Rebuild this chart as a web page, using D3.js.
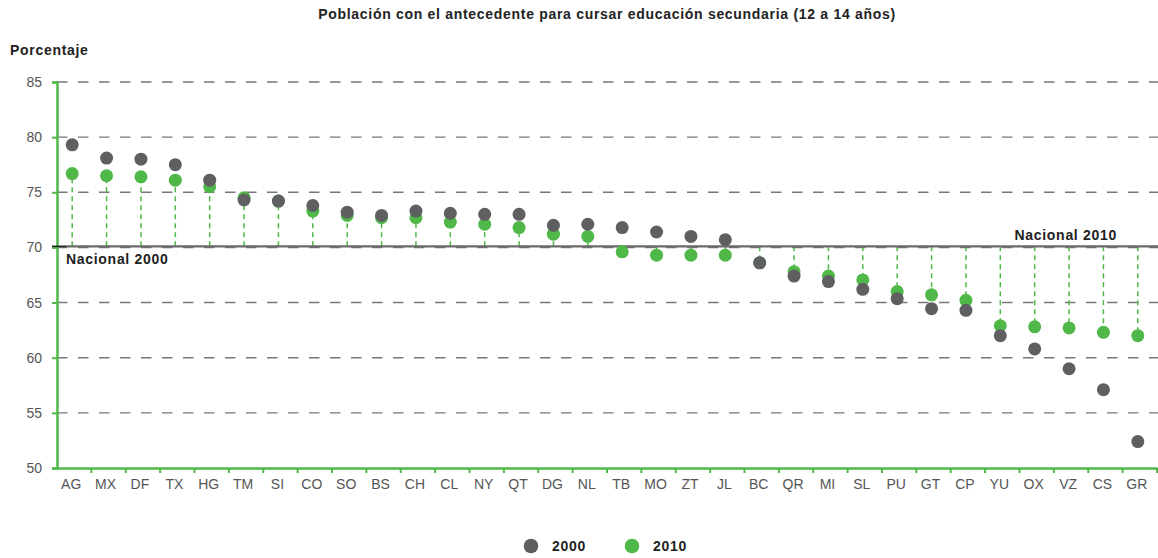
<!DOCTYPE html>
<html><head><meta charset="utf-8">
<script src="https://cdn.jsdelivr.net/npm/d3@7"></script>
<style>body{margin:0;background:#fff}svg{display:block;font-family:"Liberation Sans",Arial,sans-serif}</style>
</head><body><svg id="c" width="1158" height="558"></svg>
<script>
const categories = ["AG","MX","DF","TX","HG","TM","SI","CO","SO","BS","CH","CL","NY","QT","DG","NL","TB","MO","ZT","JL","BC","QR","MI","SL","PU","GT","CP","YU","OX","VZ","CS","GR"];
const values2000 = [79.3,78.1,78.0,77.5,76.1,74.3,74.2,73.8,73.2,72.9,73.3,73.1,73.0,73.0,72.0,72.1,71.8,71.4,71.0,70.7,68.6,67.4,66.9,66.2,65.35,64.45,64.3,62.0,60.8,59.0,57.1,52.4];
const values2010 = [76.7,76.5,76.4,76.1,75.5,74.5,74.2,73.3,72.9,72.7,72.7,72.3,72.1,71.8,71.2,71.0,69.6,69.3,69.3,69.3,68.6,67.8,67.4,67.05,66.0,65.7,65.2,62.9,62.8,62.7,62.3,62.0];
const yTicks = [50,55,60,65,70,75,80,85];
const nacional = 70.1;
const seriesNames = ["2000","2010"];
const title = "Población con el antecedente para cursar educación secundaria (12 a 14 años)";

const GREEN = "#4fb848", GRAY = "#5f5f62";
const BOLD = {size: 14, ls: 0.7};
const svg = d3.select("#c");
const x = d3.scaleBand().domain(categories).range([57, 1157]);
const y = d3.scaleLinear().domain([50, 85]).range([468, 82]);

function boldText(g, px, py, t, anchor) {
  return g.append("text").attr("x", px).attr("y", py).attr("text-anchor", anchor || "start")
    .attr("font-size", BOLD.size).attr("letter-spacing", BOLD.ls).attr("font-weight","bold").attr("fill","#222").text(t);
}

boldText(svg, 607, 19, title, "middle");
boldText(svg, 10, 55, "Porcentaje");

// grid
svg.append("g").selectAll("line").data(yTicks.filter(d => d > 50)).join("line")
  .attr("x1", 57).attr("x2", 1158).attr("y1", d => y(d)).attr("y2", d => y(d))
  .attr("stroke", "#777").attr("stroke-width", 1.4).attr("stroke-dasharray", "10.5,10.5");

// y axis
const ya = svg.append("g").attr("transform","translate(57,0)")
  .call(d3.axisLeft(y).tickValues(yTicks).tickSize(5).tickPadding(10));
ya.select(".domain").attr("stroke", GREEN).attr("stroke-width", 2.5);
ya.selectAll(".tick line").attr("stroke", GREEN).attr("stroke-width", 2);
ya.selectAll(".tick text").attr("font-size", 14).attr("fill","#555").attr("font-family","Liberation Sans, Arial");

// x axis
const xa = svg.append("g").attr("transform","translate(0,468)")
  .call(d3.axisBottom(x).tickSize(0).tickPadding(11));
xa.select(".domain").attr("stroke", GREEN).attr("stroke-width", 2.5);
xa.selectAll(".tick text").attr("font-size", 14).attr("fill","#555").attr("font-family","Liberation Sans, Arial").attr("dx", -3);
svg.append("g").selectAll("line").data(categories).join("line")
  .attr("x1", d => x(d) + x.bandwidth()).attr("x2", d => x(d) + x.bandwidth())
  .attr("y1", 468).attr("y2", 473).attr("stroke", GREEN).attr("stroke-width", 2);

const cx = d => x(d) + x.bandwidth()/2 - 2;

// stems
svg.append("g").selectAll("line").data(categories).join("line")
  .attr("x1", cx).attr("x2", cx)
  .attr("y1", y(nacional)).attr("y2", (d,i) => y(values2010[i]))
  .attr("stroke", GREEN).attr("stroke-width", 1.5).attr("stroke-dasharray", "5,4");

// national line
svg.append("line").attr("x1", 52).attr("x2", 66).attr("y1", y(nacional)).attr("y2", y(nacional))
  .attr("stroke", "#222").attr("stroke-width", 1.6);
svg.append("line").attr("x1", 66).attr("x2", 1158).attr("y1", y(nacional)).attr("y2", y(nacional))
  .attr("stroke", "#6a6a6a").attr("stroke-width", 2.4);
boldText(svg, 66, y(nacional) + 18, "Nacional 2000");
boldText(svg, 1117, y(nacional) - 6, "Nacional 2010", "end");

// dots
svg.append("g").selectAll("circle").data(categories).join("circle")
  .attr("cx", cx).attr("cy", (d,i) => y(values2010[i])).attr("r", 6.5).attr("fill", GREEN);
svg.append("g").selectAll("circle").data(categories).join("circle")
  .attr("cx", cx).attr("cy", (d,i) => y(values2000[i])).attr("r", 6.5).attr("fill", GRAY);

// legend
const lg = svg.append("g");
[[531, GRAY, seriesNames[0]], [632, GREEN, seriesNames[1]]].forEach(([lx, c, t]) => {
  lg.append("circle").attr("cx", lx).attr("cy", 546).attr("r", 7.3).attr("fill", c);
  boldText(lg, lx + 21, 551, t);
});
</script></body></html>
